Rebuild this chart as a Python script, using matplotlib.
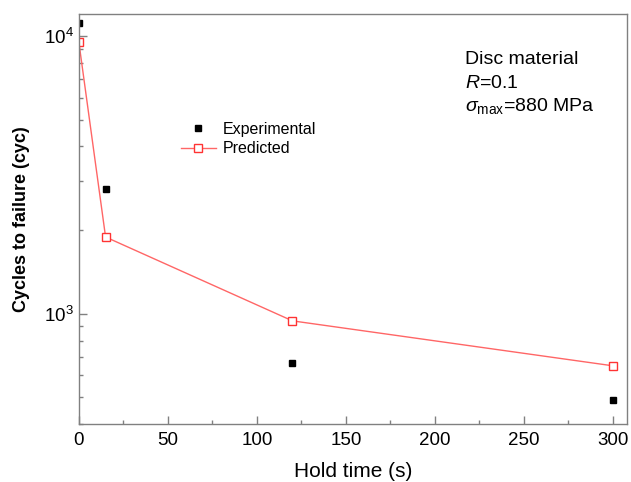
import numpy as np
import matplotlib.pyplot as plt
from matplotlib.ticker import MultipleLocator

plt.rcParams['font.family'] = ['Liberation Sans', 'DejaVu Sans']
plt.rcParams['mathtext.fontset'] = 'custom'
plt.rcParams['mathtext.rm'] = 'Liberation Sans'
plt.rcParams['mathtext.it'] = 'Liberation Sans:italic'
plt.rcParams['mathtext.bf'] = 'Liberation Sans:bold'

# Hold time (s) and cycles to failure
hold_exp = [0, 15, 120, 300]
cyc_exp = [11100, 2810, 665, 489]

hold_pred = [0, 15, 120, 300]
cyc_pred = [9490, 1888, 942, 649]

grey = '#808080'
W, H = 631, 482

fig = plt.figure(figsize=(W / 100, H / 100), dpi=100)
ax = fig.add_axes([0.125, 0.12, 0.8687, 0.851])

ax.plot(hold_exp, cyc_exp, ls='none', marker='s', ms=5, color='black',
        label='Experimental')
ax.plot(hold_pred, cyc_pred, color='#ff6666', lw=1, marker='s', ms=5.5,
        mfc='white', mec='#ff3333', mew=1, label='Predicted')

ax.set_yscale('log')
ax.set_xlim(0, 308)
ax.set_ylim(400, 12000)
ax.xaxis.set_major_locator(MultipleLocator(50))
ax.xaxis.set_minor_locator(MultipleLocator(25))

for s in ax.spines.values():
    s.set_color(grey)
    s.set_linewidth(1)
ax.tick_params(which='both', direction='in', color=grey, top=False, right=False,
               labelsize=13.5, labelcolor='black')
ax.tick_params(which='major', length=6, width=1)
ax.tick_params(which='minor', length=3, width=1)
ax.tick_params(axis='x', which='major', pad=6)

ax.set_xlabel('Hold time (s)', fontsize=15, labelpad=9)
ax.set_ylabel('Cycles to failure (cyc)', fontsize=13, fontweight='bold', labelpad=10)

ax.legend(loc='center left', bbox_to_anchor=(0.174, 0.695), frameon=False,
          fontsize=11.5, handlelength=2.2, handletextpad=0.45, labelspacing=0.3,
          borderaxespad=0)

# condition notes, placed in pixel positions from the top-left
notes = ['Disc material', '$R$=0.1', r'$\sigma_{\mathrm{max}}$=880 MPa']
for i, t in enumerate(notes):
    fig.text(465 / W, 1 - (60 + 23 * i) / H, t, fontsize=14, va='center')

fig.savefig('out.png', dpi=100)
